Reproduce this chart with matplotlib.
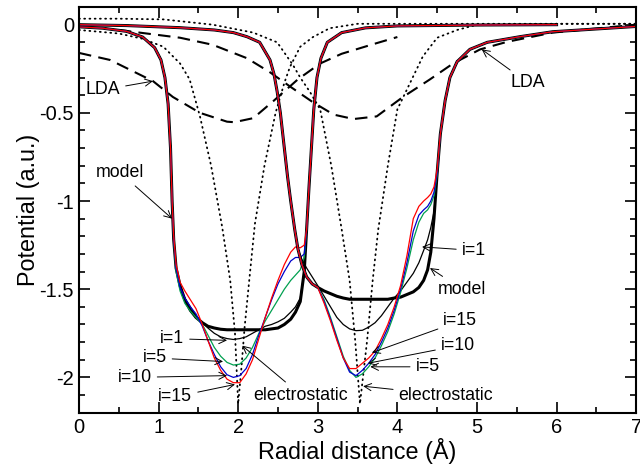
import matplotlib
matplotlib.use("Agg")
import matplotlib.pyplot as plt
from matplotlib.ticker import MultipleLocator, FixedLocator, FixedFormatter

plt.rcParams['font.family'] = ['Liberation Sans', 'DejaVu Sans']
plt.rcParams['axes.unicode_minus'] = False

# ---- system A (well near 2 A) ----
a_x = [0, 0.3, 0.6, 0.8, 0.95, 1.03, 1.08, 1.12, 1.15, 1.17, 1.19, 1.22, 1.27, 1.33, 1.40,
       1.47, 1.55, 1.62, 1.70, 1.78, 1.86, 1.94, 2.02, 2.10, 2.18, 2.26, 2.34, 2.42, 2.50,
       2.58, 2.66, 2.72, 2.78, 2.83, 2.86, 2.89, 2.92, 2.95, 2.99, 3.04, 3.12, 3.3, 3.6,
       4.0, 5.0, 6.0]
a_model = [-0.012, -0.02, -0.038, -0.07, -0.13, -0.2, -0.3, -0.45, -0.7, -1.0, -1.22, -1.38,
           -1.48, -1.56, -1.62, -1.66, -1.69, -1.71, -1.72, -1.727, -1.73, -1.73, -1.73, -1.73,
           -1.73, -1.73, -1.73, -1.725, -1.72, -1.70, -1.67, -1.63, -1.57, -1.40, -1.16, -0.92,
           -0.70, -0.48, -0.30, -0.19, -0.10, -0.045, -0.018, -0.007, -0.002, 0.0]
a_i1 = [-0.012, -0.02, -0.038, -0.07, -0.13, -0.2, -0.3, -0.45, -0.7, -1.0, -1.22, -1.38,
        -1.49, -1.55, -1.60, -1.65, -1.69, -1.72, -1.75, -1.77, -1.78, -1.785, -1.78, -1.77,
        -1.75, -1.73, -1.71, -1.70, -1.685, -1.665, -1.63, -1.60, -1.55, -1.40, -1.16, -0.92,
        -0.70, -0.48, -0.30, -0.19, -0.10, -0.045, -0.018, -0.007, -0.002, 0.0]
a_i5 = [-0.012, -0.02, -0.038, -0.07, -0.13, -0.2, -0.3, -0.45, -0.7, -1.0, -1.22, -1.40,
        -1.51, -1.58, -1.625, -1.66, -1.70, -1.76, -1.83, -1.88, -1.915, -1.93, -1.925, -1.89,
        -1.83, -1.75, -1.68, -1.62, -1.56, -1.50, -1.45, -1.42, -1.39, -1.32, -1.16, -0.92,
        -0.70, -0.48, -0.30, -0.19, -0.10, -0.045, -0.018, -0.007, -0.002, 0.0]
a_i10 = [-0.012, -0.02, -0.038, -0.07, -0.13, -0.2, -0.3, -0.45, -0.7, -1.0, -1.22, -1.38,
         -1.49, -1.55, -1.60, -1.64, -1.71, -1.79, -1.87, -1.94, -1.985, -2.0, -1.99, -1.95,
         -1.87, -1.76, -1.66, -1.56, -1.47, -1.40, -1.34, -1.32, -1.32, -1.30, -1.16, -0.92,
         -0.70, -0.48, -0.30, -0.19, -0.10, -0.045, -0.018, -0.007, -0.002, 0.0]
a_i15 = [-0.012, -0.02, -0.038, -0.07, -0.13, -0.2, -0.3, -0.45, -0.7, -1.0, -1.20, -1.36,
         -1.46, -1.51, -1.56, -1.61, -1.70, -1.79, -1.89, -1.96, -2.01, -2.03, -2.03, -1.98,
         -1.90, -1.78, -1.66, -1.55, -1.45, -1.36, -1.29, -1.26, -1.265, -1.25, -1.16, -0.92,
         -0.70, -0.48, -0.30, -0.19, -0.10, -0.045, -0.018, -0.007, -0.002, 0.0]

# ---- system B (well near 3.5 A) ----
b_x = [0, 0.6, 1.27, 1.7, 1.94, 2.11, 2.27, 2.40, 2.45, 2.49, 2.53, 2.57, 2.62, 2.66, 2.71,
       2.75, 2.80, 2.86, 2.93, 3.00, 3.08, 3.16, 3.24, 3.32, 3.40, 3.48, 3.56, 3.64, 3.72,
       3.80, 3.88, 3.96, 4.04, 4.12, 4.20, 4.27, 4.33, 4.38, 4.42, 4.46, 4.50, 4.54, 4.60,
       4.66, 4.75, 4.91, 5.13, 5.54, 5.95, 7.0]
b_top = [0.0, -0.005, -0.017, -0.03, -0.045, -0.068, -0.10, -0.2, -0.28, -0.38, -0.5,
         -0.66, -0.86, -1.0, -1.16, -1.27]
b_model = b_top + [-1.36, -1.43, -1.47, -1.49, -1.51, -1.525, -1.54, -1.55, -1.557, -1.557,
                   -1.557, -1.557, -1.557, -1.557, -1.557, -1.55, -1.545, -1.53, -1.515,
                   -1.49, -1.45, -1.39, -1.29, -1.10, -0.84, -0.62, -0.43, -0.30, -0.21,
                   -0.14, -0.10, -0.068, -0.04, -0.01]
b_i1 = b_top + [-1.33, -1.38, -1.43, -1.48, -1.54, -1.60, -1.66, -1.70, -1.725, -1.735,
                -1.733, -1.715, -1.69, -1.65, -1.60, -1.55, -1.51, -1.46, -1.41, -1.35,
                -1.28, -1.22, -1.15, -1.06, -0.86, -0.62, -0.43, -0.30, -0.21,
                -0.14, -0.10, -0.068, -0.04, -0.01]
b_i5 = b_top + [-1.36, -1.43, -1.47, -1.49, -1.56, -1.66, -1.77, -1.88, -1.96, -2.0,
                -1.98, -1.94, -1.89, -1.82, -1.74, -1.64, -1.52, -1.38, -1.22, -1.12,
                -1.07, -1.05, -1.02, -0.97, -0.85, -0.62, -0.43, -0.30, -0.21,
                -0.14, -0.10, -0.068, -0.04, -0.01]
b_i10 = b_top + [-1.36, -1.43, -1.47, -1.49, -1.57, -1.67, -1.78, -1.89, -1.97, -1.99,
                 -1.96, -1.92, -1.87, -1.80, -1.72, -1.62, -1.50, -1.35, -1.17, -1.08,
                 -1.05, -1.03, -1.0, -0.95, -0.84, -0.62, -0.43, -0.30, -0.21,
                 -0.14, -0.10, -0.068, -0.04, -0.01]
b_i15 = b_top + [-1.36, -1.43, -1.47, -1.49, -1.58, -1.68, -1.79, -1.89, -1.95, -1.95,
                 -1.92, -1.89, -1.85, -1.78, -1.70, -1.60, -1.48, -1.31, -1.10, -1.03,
                 -1.00, -0.98, -0.96, -0.92, -0.82, -0.62, -0.43, -0.30, -0.21,
                 -0.14, -0.10, -0.068, -0.04, -0.01]

# ---- electrostatic (dotted) ----
ea_x = [0, 0.5, 0.8, 1.06, 1.27, 1.39, 1.52, 1.66, 1.80, 1.90, 1.96, 2.0, 2.04, 2.08, 2.15,
        2.21, 2.33, 2.47, 2.58, 2.65, 2.78, 2.94, 3.15, 3.5, 4.0, 5.0, 6.0, 7.0]
ea_y = [-0.03, -0.05, -0.08, -0.125, -0.22, -0.31, -0.52, -0.80, -1.15, -1.45, -1.75, -2.15,
        -1.95, -1.72, -1.40, -1.13, -0.80, -0.50, -0.33, -0.24, -0.125, -0.07, -0.02, 0.005,
        0.005, 0.005, 0.005, 0.005]
eb_x = [0, 0.5, 1.06, 1.68, 2.19, 2.49, 2.69, 2.78, 2.90, 3.03, 3.17, 3.30, 3.40, 3.47, 3.53,
        3.58, 3.62, 3.69, 3.76, 3.88, 4.0, 4.16, 4.32, 4.50, 4.75, 5.0, 6.0, 7.0]
eb_y = [0.034, 0.034, 0.03, 0.0, -0.045, -0.10, -0.23, -0.30, -0.38, -0.48, -0.80, -1.16,
        -1.45, -1.79, -2.15, -1.95, -1.79, -1.45, -1.16, -0.80, -0.48, -0.33, -0.18, -0.074,
        -0.03, 0.0, 0.005, 0.005]

# ---- LDA (dashed) ----
la_x = [0, 0.39, 0.93, 1.18, 1.52, 1.86, 1.95, 2.19, 2.45, 2.75, 3.03, 3.3, 3.7, 4.0]
la_y = [-0.16, -0.20, -0.32, -0.41, -0.50, -0.55, -0.553, -0.53, -0.43, -0.31, -0.22,
        -0.165, -0.11, -0.07]
lb_x = [0.5, 1.27, 1.68, 2.11, 2.40, 2.65, 2.94, 3.20, 3.45, 3.74, 4.07, 4.41, 4.70, 5.04,
        5.38, 5.95, 7.0]
lb_y = [-0.03, -0.074, -0.114, -0.19, -0.27, -0.35, -0.44, -0.51, -0.535, -0.52, -0.41,
        -0.31, -0.22, -0.14, -0.097, -0.045, 0.0]

green = '#00a050'

fig = plt.figure(figsize=(6.4, 4.7), dpi=100)
ax = fig.add_axes([0.1234, 0.122, 0.8706, 0.863])

for xs, ys in [(ea_x, ea_y), (eb_x, eb_y)]:
    ax.plot(xs, ys, color='black', lw=1.3, linestyle=(0, (0.5, 2.4)), dash_capstyle='round')
for xs, ys in [(la_x, la_y), (lb_x, lb_y)]:
    ax.plot(xs, ys, color='black', lw=1.5, linestyle=(0, (6, 3.5)))

for xs, curves in [(a_x, (a_model, a_i1, a_i5, a_i10, a_i15)),
                   (b_x, (b_model, b_i1, b_i5, b_i10, b_i15))]:
    model, i1, i5, i10, i15 = curves
    ax.plot(xs, model, color='black', lw=2.2)
    ax.plot(xs, i1, color='black', lw=0.9)
    ax.plot(xs, i5, color=green, lw=0.9)
    ax.plot(xs, i10, color='#0000cc', lw=0.9)
    ax.plot(xs, i15, color='#ff0000', lw=0.9)

# annotations
arrow = dict(arrowstyle='->', color='black', lw=0.7, shrinkA=2, shrinkB=0)
notes = [
    ('LDA', (0.93, -0.32), (0.30, -0.37)),
    ('LDA', (5.06, -0.14), (5.64, -0.33)),
    ('model', (1.17, -1.10), (0.52, -0.84)),
    ('model', (4.41, -1.38), (4.81, -1.50)),
    ('i=1', (4.31, -1.26), (4.96, -1.28)),
    ('i=15', (3.68, -1.86), (4.79, -1.68)),
    ('i=10', (3.63, -1.92), (4.76, -1.82)),
    ('i=5', (3.66, -1.94), (4.38, -1.94)),
    ('electrostatic', (3.57, -2.05), (4.61, -2.10)),
    ('electrostatic', (2.05, -1.82), (2.79, -2.10)),
    ('i=1', (1.86, -1.79), (1.17, -1.78)),
    ('i=5', (1.81, -1.91), (0.95, -1.89)),
    ('i=10', (1.86, -1.99), (0.70, -2.00)),
    ('i=15', (1.96, -2.04), (1.21, -2.11)),
]
for txt, tip, pos in notes:
    ax.annotate(txt, xy=tip, xytext=pos, ha='center', va='center', fontsize=12.8,
                arrowprops=arrow)

ax.set_xlim(0, 7)
ax.set_ylim(-2.2, 0.1)
ax.xaxis.set_major_locator(MultipleLocator(1))
ax.xaxis.set_minor_locator(MultipleLocator(0.5))
ax.yaxis.set_major_locator(FixedLocator([-2, -1.5, -1, -0.5, 0]))
ax.yaxis.set_major_formatter(FixedFormatter(['-2', '-1.5', '-1', '-0.5', '0']))
ax.yaxis.set_minor_locator(MultipleLocator(0.1))
ax.tick_params(which='both', direction='in', top=True, right=True, labelsize=14.5, width=1.2)
ax.tick_params(which='major', length=8)
ax.tick_params(which='minor', length=4)
for s in ax.spines.values():
    s.set_linewidth(1.5)
ax.set_xlabel('Radial distance (Å)', fontsize=16.8, labelpad=1)
ax.set_ylabel('Potential (a.u.)', fontsize=16.8, labelpad=0)

fig.savefig('out.png', dpi=100)
